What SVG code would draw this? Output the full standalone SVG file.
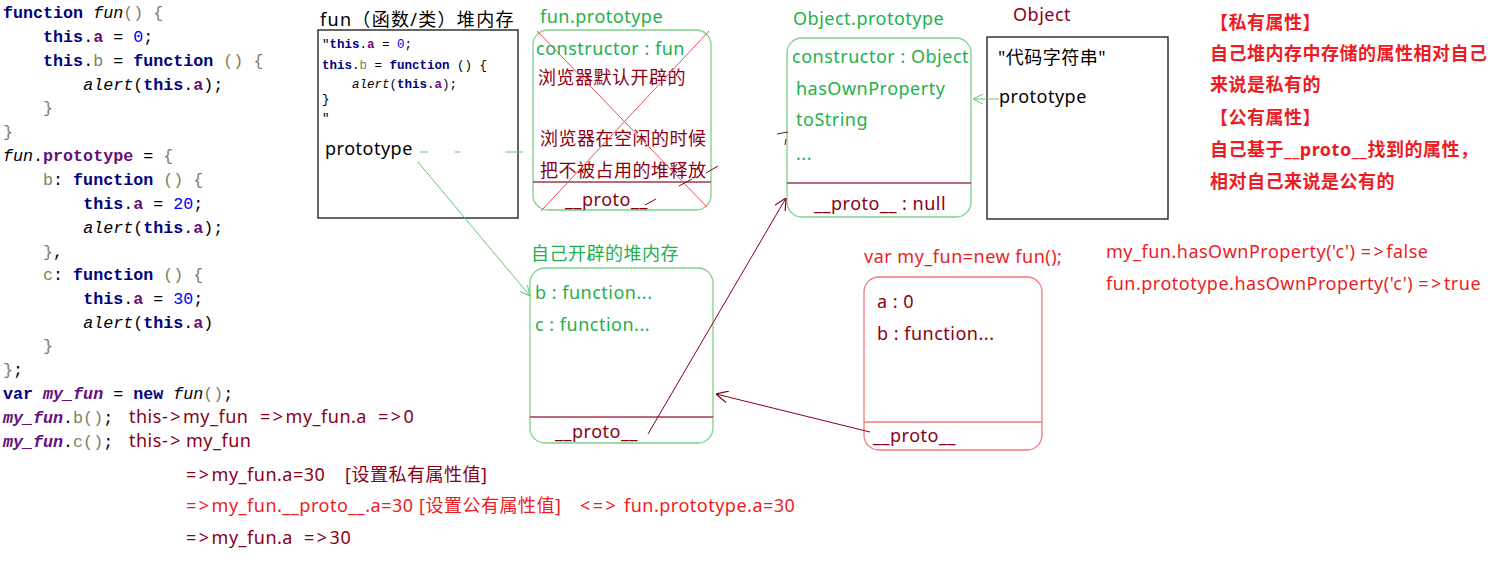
<svg xmlns="http://www.w3.org/2000/svg" width="1488" height="575" viewBox="0 0 1488 575">
<defs>
<style>
.code{font-family:"Liberation Mono",monospace;font-size:16.7px;fill:#000;white-space:pre}
.mini{font-family:"Liberation Mono",monospace;font-size:12.5px;fill:#000;white-space:pre}
.kw{fill:#000080;font-weight:bold}
.it{font-style:italic}
.pr{fill:#660e7a;font-weight:bold}
.num{fill:#0000ff}
.gy{fill:#7f7f5f}
.t{font-family:"Noto Sans","Noto Sans CJK SC",sans-serif;font-size:18px;white-space:pre;letter-spacing:0.5px}
.op{letter-spacing:2.5px}
.g{fill:#22b14c}
.dr{fill:#880015}
.r{fill:#ed1c24}
.k{fill:#000}
.b{font-weight:bold}
.box{fill:none;stroke:#333;stroke-width:1.5}
.gbox{fill:none;stroke:#7ed08a;stroke-width:1.3}
.rbox{fill:none;stroke:#f27a7a;stroke-width:1.3}
.div{stroke:#a0384a;stroke-width:1.3}
.gl{stroke:#5cc870;stroke-width:1;fill:none}
.rl{stroke:#880015;stroke-width:1;fill:none}
</style>
<marker id="ag" viewBox="0 0 10 10" refX="10" refY="5" markerWidth="10" markerHeight="10" markerUnits="userSpaceOnUse" orient="auto">
<path d="M0,0 L10,5 L0,10" fill="none" stroke="#5cc870" stroke-width="1"/>
</marker>
<marker id="ar" viewBox="0 0 10 10" refX="10" refY="5" markerWidth="12" markerHeight="12" markerUnits="userSpaceOnUse" orient="auto">
<path d="M0,0 L10,5 L0,10" fill="none" stroke="#880015" stroke-width="1"/>
</marker>
</defs>
<rect width="1488" height="575" fill="#fff"/>

<g id="code">
<text class="code" x="3" y="18"><tspan class="kw">function</tspan> <tspan class="it">fun</tspan><tspan class="gy">() {</tspan></text>
<text class="code" x="3" y="42">    <tspan class="kw">this</tspan>.<tspan class="pr">a</tspan> = <tspan class="num">0</tspan>;</text>
<text class="code" x="3" y="66">    <tspan class="kw">this</tspan>.<tspan class="gy">b</tspan> = <tspan class="kw">function</tspan> <tspan class="gy">() {</tspan></text>
<text class="code" x="3" y="90">        <tspan class="it">alert</tspan>(<tspan class="kw">this</tspan>.<tspan class="pr">a</tspan>);</text>
<text class="code" x="3" y="113">    <tspan class="gy">}</tspan></text>
<text class="code" x="3" y="137"><tspan class="gy">}</tspan></text>
<text class="code" x="3" y="161"><tspan class="it">fun</tspan>.<tspan class="pr">prototype</tspan> = <tspan class="gy">{</tspan></text>
<text class="code" x="3" y="185">    <tspan class="gy">b</tspan>: <tspan class="kw">function</tspan> <tspan class="gy">() {</tspan></text>
<text class="code" x="3" y="209">        <tspan class="kw">this</tspan>.<tspan class="pr">a</tspan> = <tspan class="num">20</tspan>;</text>
<text class="code" x="3" y="233">        <tspan class="it">alert</tspan>(<tspan class="kw">this</tspan>.<tspan class="pr">a</tspan>);</text>
<text class="code" x="3" y="257">    <tspan class="gy">}</tspan>,</text>
<text class="code" x="3" y="280">    <tspan class="gy">c</tspan>: <tspan class="kw">function</tspan> <tspan class="gy">() {</tspan></text>
<text class="code" x="3" y="304">        <tspan class="kw">this</tspan>.<tspan class="pr">a</tspan> = <tspan class="num">30</tspan>;</text>
<text class="code" x="3" y="328">        <tspan class="it">alert</tspan>(<tspan class="kw">this</tspan>.<tspan class="pr">a</tspan>)</text>
<text class="code" x="3" y="351">    <tspan class="gy">}</tspan></text>
<text class="code" x="3" y="375"><tspan class="gy">}</tspan>;</text>
<text class="code" x="3" y="399"><tspan class="kw">var</tspan> <tspan class="it pr">my_fun</tspan> = <tspan class="kw">new</tspan> <tspan class="it">fun</tspan><tspan class="gy">()</tspan>;</text>
<text class="code" x="3" y="423"><tspan class="it pr">my_fun</tspan>.<tspan class="gy">b()</tspan>;</text>
<text class="code" x="3" y="447"><tspan class="it pr">my_fun</tspan>.<tspan class="gy">c()</tspan>;</text>
</g>

<g id="explanation">
<text class="t dr" y="423"><tspan x="129">this<tspan class="op">-&gt;</tspan>my_fun</tspan><tspan x="260"><tspan class="op">=&gt;</tspan>my_fun.a</tspan><tspan x="378"><tspan class="op">=&gt;</tspan>0</tspan></text>
<text class="t dr" y="447"><tspan x="129">this<tspan class="op">-&gt;</tspan></tspan><tspan x="186">my_fun</tspan></text>
<text class="t dr" y="481"><tspan x="186"><tspan class="op">=&gt;</tspan>my_fun.a=30</tspan><tspan x="345">[设置私有属性值]</tspan></text>
<text class="t r" y="512"><tspan x="186"><tspan class="op">=&gt;</tspan>my_fun.__proto__.a=30</tspan><tspan x="419">[设置公有属性值]</tspan><tspan x="580" class="op">&lt;=&gt;</tspan><tspan x="624">fun.prototype.a=30</tspan></text>
<text class="t dr" y="544"><tspan x="186"><tspan class="op">=&gt;</tspan>my_fun.a</tspan><tspan x="304"><tspan class="op">=&gt;</tspan>30</tspan></text>
</g>

<g id="node-fun">
<text class="t k" x="320" y="26" style="letter-spacing:1.3px">fun（函数/类）堆内存</text>
<rect class="box" x="318" y="30" width="200" height="188"/>
<text class="mini" x="322" y="48">"<tspan class="kw">this</tspan>.<tspan class="pr">a</tspan> = <tspan class="num">0</tspan>;</text>
<text class="mini" x="322" y="69"><tspan class="kw">this</tspan>.<tspan class="gy">b</tspan> = <tspan class="kw">function</tspan> () {</text>
<text class="mini" x="322" y="88">    <tspan class="it">alert</tspan>(<tspan class="kw">this</tspan>.<tspan class="pr">a</tspan>);</text>
<text class="mini" x="322" y="103">}</text>
<text class="mini" x="322" y="122">"</text>
<text class="t k" x="325" y="155">prototype</text>
</g>

<g id="node-fun-prototype">
<text class="t g" x="540" y="23">fun.prototype</text>
<rect class="gbox" x="533" y="30" width="178" height="180" rx="15"/>
<text class="t g" x="536" y="55">constructor : fun</text>
<text class="t dr" x="538" y="84">浏览器默认开辟的</text>
<text class="t dr" x="540" y="145">浏览器在空闲的时候</text>
<text class="t dr" x="540" y="177">把不被占用的堆释放</text>
<line class="div" x1="533" y1="182" x2="711" y2="182"/>
<text class="t dr" x="565" y="206">__proto__</text>
<line x1="537" y1="31" x2="707" y2="207" stroke="#f05050" stroke-width="1"/>
<line x1="709" y1="31" x2="541" y2="211" stroke="#f05050" stroke-width="1"/>
</g>

<g id="node-object-prototype">
<text class="t g" x="793" y="25">Object.prototype</text>
<rect class="gbox" x="787" y="38" width="184" height="179" rx="15"/>
<text class="t g" x="792" y="63">constructor : Object</text>
<text class="t g" x="796" y="95">hasOwnProperty</text>
<text class="t g" x="796" y="126">toString</text>
<text class="t g" x="796" y="160">...</text>
<line class="div" x1="787" y1="183" x2="971" y2="183"/>
<text class="t dr" x="814" y="210">__proto__ : null</text>
</g>

<g id="node-object">
<text class="t dr" x="1013" y="21">Object</text>
<rect class="box" x="987" y="37" width="181" height="182"/>
<text class="t k" x="998" y="64">"代码字符串"</text>
<text class="t k" x="999" y="103">prototype</text>
</g>

<g id="notes">
<text class="t r b" x="1210" y="29">【私有属性】</text>
<text class="t r b" x="1210" y="60">自己堆内存中存储的属性相对自己</text>
<text class="t r b" x="1210" y="91">来说是私有的</text>
<text class="t r b" x="1210" y="124">【公有属性】</text>
<text class="t r b" x="1210" y="156">自己基于__proto__找到的属性，</text>
<text class="t r b" x="1210" y="188">相对自己来说是公有的</text>
<text class="t r" x="1106" y="258">my_fun.hasOwnProperty('c') <tspan class="op">=&gt;</tspan>false</text>
<text class="t r" x="1106" y="290">fun.prototype.hasOwnProperty('c') <tspan class="op">=&gt;</tspan>true</text>
</g>

<g id="node-own-heap">
<text class="t g" x="531" y="260">自己开辟的堆内存</text>
<rect class="gbox" x="530" y="268" width="183" height="175" rx="15"/>
<text class="t g" x="535" y="299">b : function...</text>
<text class="t g" x="535" y="331">c : function...</text>
<line class="div" x1="530" y1="417" x2="713" y2="417"/>
<text class="t dr" x="555" y="438">__proto__</text>
</g>

<g id="node-my-fun">
<text class="t r" x="864" y="263">var my_fun=new fun();</text>
<rect class="rbox" x="864" y="277" width="178" height="173" rx="15"/>
<text class="t dr" x="877" y="308">a : 0</text>
<text class="t dr" x="877" y="340">b : function...</text>
<line x1="864" y1="422" x2="1042" y2="422" stroke="#f27a7a" stroke-width="1.3"/>
<text class="t dr" x="873" y="442">__proto__</text>
</g>

<g id="connectors">
<line class="gl" x1="418" y1="162" x2="530" y2="296" marker-end="url(#ag)"/>
<line class="gl" x1="999" y1="99" x2="973" y2="99" marker-end="url(#ag)"/>
<line class="rl" x1="648" y1="434" x2="786" y2="198" marker-end="url(#ar)"/>
<line class="rl" x1="870" y1="432" x2="716" y2="394" marker-end="url(#ar)"/>
<line class="gl" x1="420" y1="152" x2="428" y2="152"/>
<line class="gl" x1="455" y1="152" x2="460" y2="152"/>
<line class="gl" x1="505" y1="152" x2="523" y2="152"/>
<line class="rl" x1="706" y1="173" x2="718" y2="166"/>
<line class="rl" x1="679" y1="186" x2="692" y2="179"/>
<line class="rl" x1="645" y1="205" x2="656" y2="199"/>
<line class="rl" x1="777" y1="134" x2="788" y2="132"/>
<line class="rl" x1="785" y1="145" x2="786" y2="139"/>
</g>
</svg>
